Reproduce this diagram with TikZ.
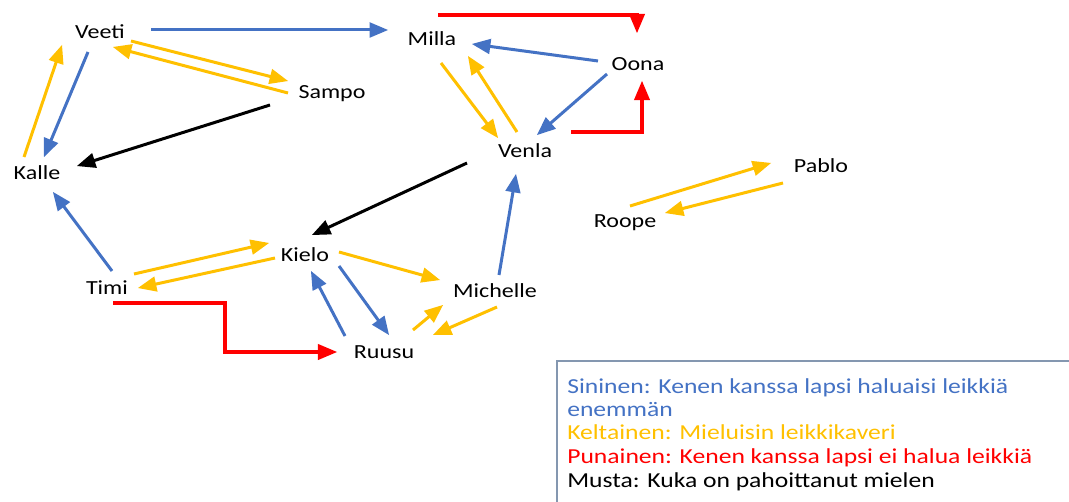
\documentclass[tikz,border=0pt]{standalone}
\usepackage{fontspec}
\setmainfont{Carlito}[FakeStretch=1.2]
\usepackage{xcolor}
\usepackage{tikz}
\usetikzlibrary{arrows}
\definecolor{sinin}{RGB}{68,114,196}
\definecolor{keltai}{RGB}{255,192,0}
\definecolor{punai}{RGB}{255,0,0}
\definecolor{kehys}{RGB}{132,151,176}

\begin{document}
\begin{tikzpicture}[line cap=butt,line join=miter,>=triangle 45,x=0.75pt,y=-0.75pt,
	lapsi/.style={anchor=base,inner sep=0pt,font=\fontsize{15}{18}\selectfont},
	selite/.style={anchor=base west,inner sep=0pt,font=\fontsize{16}{19}\selectfont},
	sini/.style={draw=sinin,line width=2.25pt,->},
	kelta/.style={draw=keltai,line width=2.25pt,->},
	puna/.style={draw=punai,line width=2.4pt,->},
	musta/.style={draw=black,line width=2.25pt,->}]
		\useasboundingbox (0,0) rectangle (1069,502);
		% lapset
		\node[lapsi] (Veeti) at (100,39) {Veeti};
		\node[lapsi] (Milla) at (432,46) {Milla};
		\node[lapsi] (Oona) at (638,71) {Oona};
		\node[lapsi] (Sampo) at (332,99) {Sampo};
		\node[lapsi] (Venla) at (525,158) {Venla};
		\node[lapsi] (Kalle) at (37,180) {Kalle};
		\node[lapsi] (Pablo) at (821,173) {Pablo};
		\node[lapsi] (Roope) at (625,228) {Roope};
		\node[lapsi] (Kielo) at (305,261) {Kielo};
		\node[lapsi] (Timi) at (107,294) {Timi};
		\node[lapsi] (Michelle) at (495,297) {Michelle};
		\node[lapsi] (Ruusu) at (384,358) {Ruusu};
		% siniset
		\draw[sini] ([shift={(51,-9)}]Veeti.base) -- ([shift={(-44,-16)}]Milla.base);
		\draw[sini] ([shift={(-12,13)}]Veeti.base) -- ([shift={(7,-23)}]Kalle.base);
		\draw[sini] ([shift={(-40,-10)}]Oona.base) -- ([shift={(40,-2)}]Milla.base);
		\draw[sini] ([shift={(-31,3)}]Oona.base) -- ([shift={(12,-23)}]Venla.base);
		\draw[sini] ([shift={(5,-23)}]Timi.base) -- ([shift={(16,12)}]Kalle.base);
		\draw[sini] ([shift={(34,5)}]Kielo.base) -- ([shift={(5,-23)}]Ruusu.base);
		\draw[sini] ([shift={(-39,-22)}]Ruusu.base) -- ([shift={(6,10)}]Kielo.base);
		\draw[sini] ([shift={(4,-22)}]Michelle.base) -- ([shift={(-9,16)}]Venla.base);
		% keltaiset
		\draw[kelta] ([shift={(31,2)}]Veeti.base) -- ([shift={(-44,-18)}]Sampo.base);
		\draw[kelta] ([shift={(-44,-6)}]Sampo.base) -- ([shift={(13,8)}]Veeti.base);
		\draw[kelta] ([shift={(-13,-23)}]Kalle.base) -- ([shift={(-38,6)}]Veeti.base);
		\draw[kelta] ([shift={(9,17)}]Milla.base) -- ([shift={(-27,-20)}]Venla.base);
		\draw[kelta] ([shift={(-8,-26)}]Venla.base) -- ([shift={(36,10)}]Milla.base);
		\draw[kelta] ([shift={(27,-20)}]Timi.base) -- ([shift={(-36,-18)}]Kielo.base);
		\draw[kelta] ([shift={(-30,-3)}]Kielo.base) -- ([shift={(31,-6)}]Timi.base);
		\draw[kelta] ([shift={(34,-9)}]Kielo.base) -- ([shift={(-55,-17)}]Michelle.base);
		\draw[kelta] ([shift={(29,-28)}]Ruusu.base) -- ([shift={(-52,8)}]Michelle.base);
		\draw[kelta] ([shift={(2,10)}]Michelle.base) -- ([shift={(49,-23)}]Ruusu.base);
		\draw[kelta] ([shift={(5,-22)}]Roope.base) -- ([shift={(-50,-10)}]Pablo.base);
		\draw[kelta] ([shift={(-38,10)}]Pablo.base) -- ([shift={(40,-15)}]Roope.base);
		% punaiset
		\draw[puna] ([shift={(6,-31)}]Milla.base) -| ([shift={(-1,-38)}]Oona.base);
		\draw[puna] ([shift={(46,-26)}]Venla.base) -| ([shift={(4,10)}]Oona.base);
		\draw[puna] ([shift={(6,9)}]Timi.base) -- ++(112,0) |- ([shift={(-47,-6)}]Ruusu.base);
		% mustat
		\draw[musta] ([shift={(-62,6)}]Sampo.base) -- ([shift={(40,-14)}]Kalle.base);
		\draw[musta] ([shift={(-58,5)}]Venla.base) -- ([shift={(7,-26)}]Kielo.base);
		% selite
		\draw[kehys,line width=1.2pt] (1069,361) -- (557,361) -- (557,502);
		\node[selite,text=sinin] (legSininen) at (567,393) {Sininen: Kenen kanssa lapsi haluaisi leikkiä};
		\node[selite,text=sinin] (legEnemman) at (567,416) {enemmän};
		\node[selite,text=keltai] (legKeltainen) at (567,439) {Keltainen: Mieluisin leikkikaveri};
		\node[selite,text=punai] (legPunainen) at (567,463) {Punainen: Kenen kanssa lapsi ei halua leikkiä};
		\node[selite] (legMusta) at (567,487) {Musta: Kuka on pahoittanut mielen};
	\end{tikzpicture}
\end{document}
